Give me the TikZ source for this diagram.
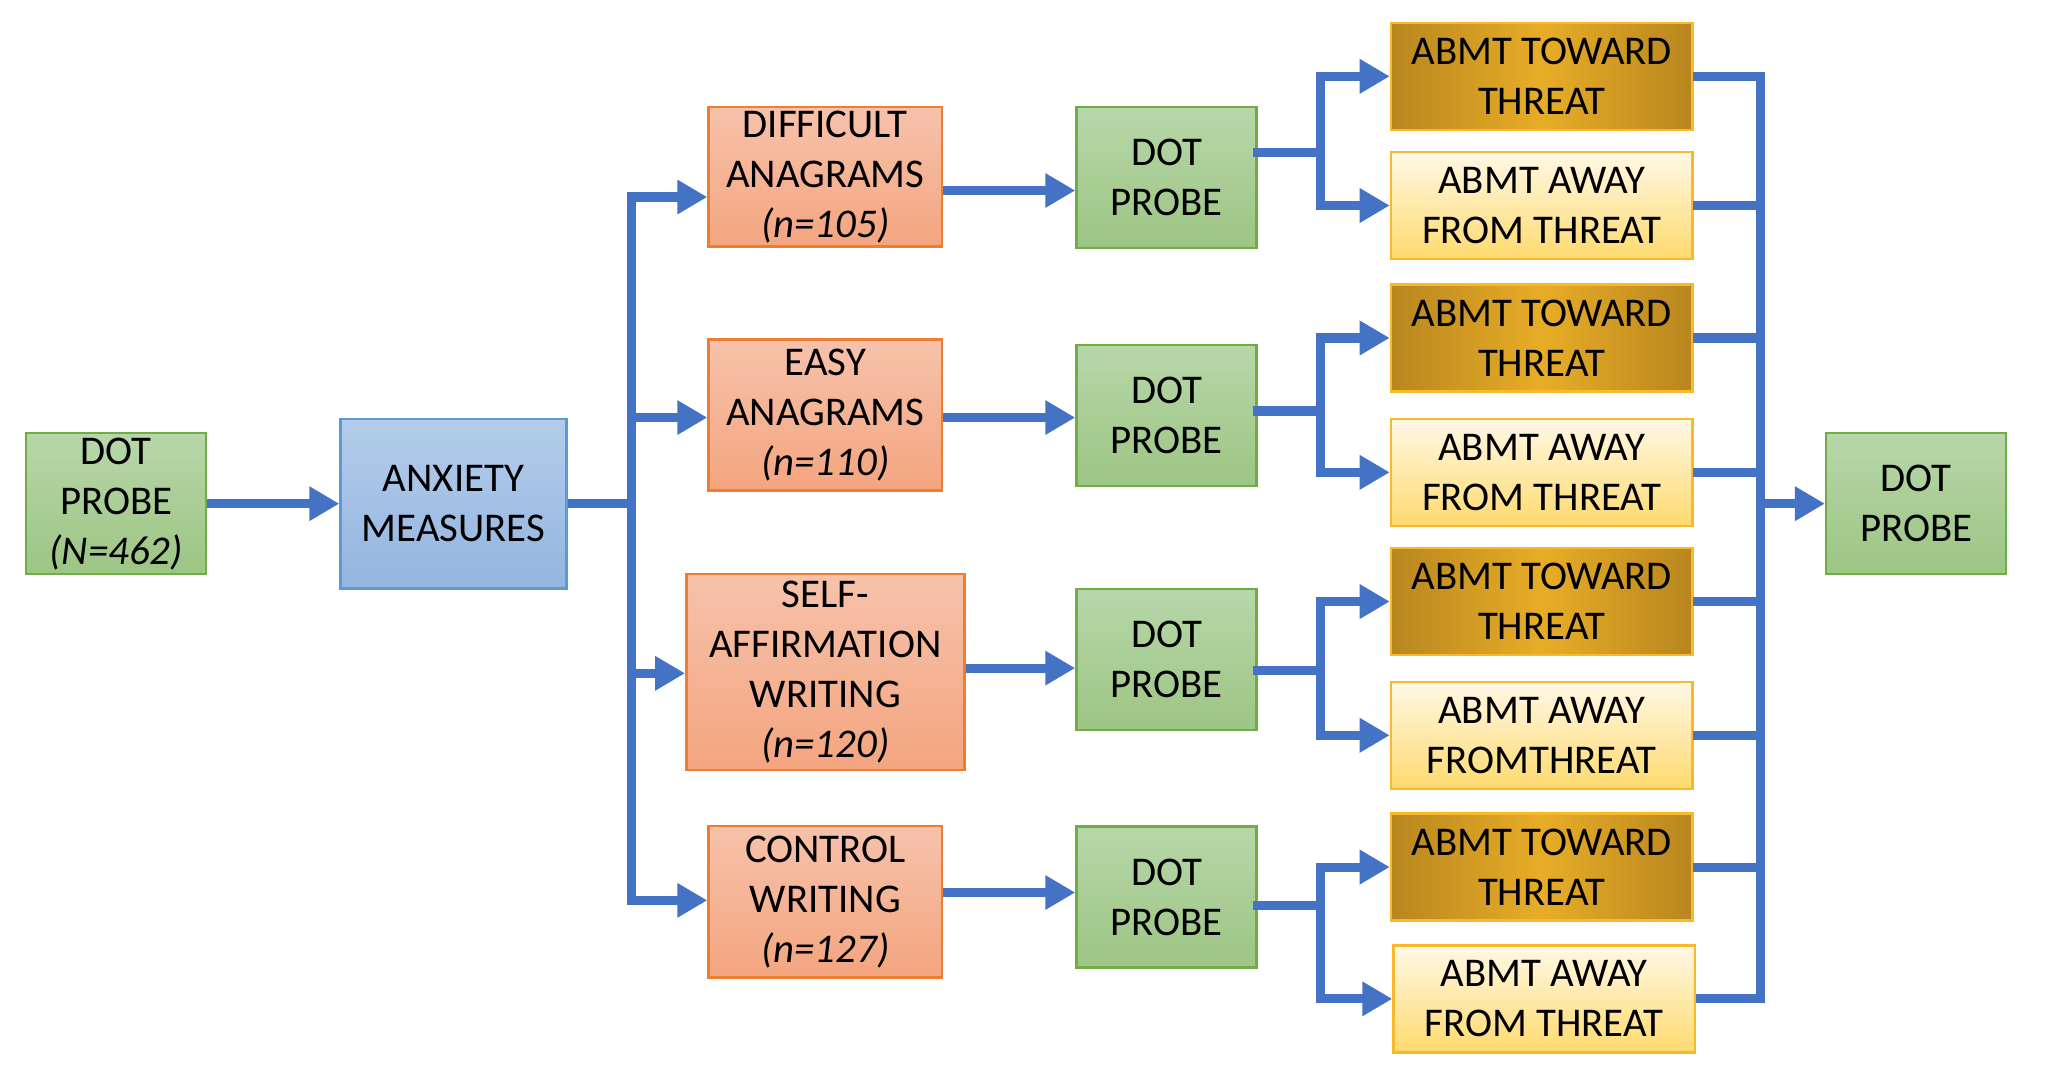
\documentclass[tikz,border=0pt]{standalone}
\usepackage{fontspec}
\setmainfont{Carlito}
\usetikzlibrary{arrows.meta}

\definecolor{lineblue}{HTML}{4472C4}
\definecolor{grnline}{HTML}{70AD47}
\definecolor{grntop}{HTML}{B7D7A9}
\definecolor{grnbot}{HTML}{9DC584}
\definecolor{bluline}{HTML}{5B9BD5}
\definecolor{blutop}{HTML}{B4CCEA}
\definecolor{blubot}{HTML}{93B5E0}
\definecolor{salline}{HTML}{ED7D31}
\definecolor{saltop}{HTML}{F6C2AB}
\definecolor{salbot}{HTML}{F4A57F}
\definecolor{goldline}{HTML}{F8BA2C}
\definecolor{golddark}{HTML}{B8861E}
\definecolor{goldmid}{HTML}{E8AD27}
\definecolor{awaytop}{HTML}{FFF8E6}
\definecolor{awaybot}{HTML}{FEDA6E}

\begin{document}
\begin{tikzpicture}[x=0.02cm,y=-0.02cm,
    every node/.style={font=\fontsize{17.8}{21.8}\selectfont, align=center, inner sep=0pt, line width=1.1pt},
    greenbox/.style={draw=grnline, top color=grntop, bottom color=grnbot, minimum width=2.76cm, minimum height=2.16cm},
    bluebox/.style={draw=bluline, top color=blutop, bottom color=blubot, minimum width=3.46cm, minimum height=2.6cm},
    condbox/.style={draw=salline, top color=saltop, bottom color=salbot, minimum width=3.58cm, minimum height=2.32cm},
    towardbox/.style={draw=goldline, left color=golddark, right color=golddark, middle color=goldmid, minimum width=4.62cm, minimum height=1.64cm},
    awaybox/.style={draw=goldline, top color=awaytop, bottom color=awaybot, minimum width=4.62cm, minimum height=1.64cm},
    bus/.style={draw=lineblue, line width=4pt, line cap=rect},
    arr/.style={draw=lineblue, line width=4pt, -{Triangle[length=0.46cm,width=0.5cm]}}]
  \useasboundingbox (0,0) rectangle (1568,832);

  \node[greenbox] (dp0) at (89,386) {DOT\\PROBE\\\textit{(N=462)}};
  \node[bluebox] (anx) at (347.5,386) {ANXIETY\\MEASURES};

  \node[condbox, minimum height=2.14cm] (diff) at (632.5,135.5) {DIFFICULT\\ANAGRAMS\\\textit{(n=105)}};
  \node[condbox] (easy) at (632.5,318) {EASY\\ANAGRAMS\\\textit{(n=110)}};
  \node[condbox, minimum width=4.26cm, minimum height=3cm] (self) at (632.5,515) {SELF-\\AFFIRMATION\\WRITING\\\textit{(n=120)}};
  \node[condbox] (ctrl) at (632.5,691) {CONTROL\\WRITING\\\textit{(n=127)}};

  \node[greenbox] (dp1) at (894,136) {DOT\\PROBE};
  \node[greenbox] (dp2) at (894,318.5) {DOT\\PROBE};
  \node[greenbox] (dp3) at (894,505.5) {DOT\\PROBE};
  \node[greenbox] (dp4) at (894,687.5) {DOT\\PROBE};

  \node[towardbox] (tw1) at (1181.5,58.5) {ABMT TOWARD\\THREAT};
  \node[awaybox] (aw1) at (1181.5,157.5) {ABMT AWAY\\FROM THREAT};
  \node[towardbox] (tw2) at (1181.5,259) {ABMT TOWARD\\THREAT};
  \node[awaybox] (aw2) at (1181.5,362) {ABMT AWAY\\FROM THREAT};
  \node[towardbox] (tw3) at (1181.5,461) {ABMT TOWARD\\THREAT};
  \node[awaybox] (aw3) at (1181.5,563.5) {ABMT AWAY\\FROMTHREAT};
  \node[towardbox] (tw4) at (1181.5,664.5) {ABMT TOWARD\\THREAT};
  \node[awaybox] (aw4) at (1183.5,765.5) {ABMT AWAY\\FROM THREAT};

  \node[greenbox] (dpF) at (1468.5,386) {DOT\\PROBE};

  % first probe to anxiety measures, then split
  \draw[arr] (dp0) -- (anx);
  \coordinate (fa1) at (484,151);
  \coordinate (fa2) at (484,320);
  \coordinate (fa3) at (484,516);
  \coordinate (fa4) at (484,690);
  \draw[arr] (anx.east) -| (fa1) -- (fa1 -| diff.west);
  \draw[arr] (anx.east) -| (fa4) -- (fa4 -| ctrl.west);
  \draw[arr] (fa2) -- (fa2 -| easy.west);
  \draw[arr] (fa3) -- (fa3 -| self.west);

  % conditions to dot probe
  \coordinate (r1) at (0,146);
  \coordinate (r2) at (0,320);
  \coordinate (r3) at (0,512);
  \coordinate (r4) at (0,684);
  \draw[arr] (diff.east |- r1) -- (dp1.west |- r1);
  \draw[arr] (easy.east |- r2) -- (dp2.west |- r2);
  \draw[arr] (self.east |- r3) -- (dp3.west |- r3);
  \draw[arr] (ctrl.east |- r4) -- (dp4.west |- r4);

  % dot probe to ABMT
  \coordinate (fb1) at (1012,117);
  \coordinate (fb2) at (1012,315);
  \coordinate (fb3) at (1012,514);
  \coordinate (fb4) at (1012,694);
  \draw[bus] (dp1.east |- fb1) -- (fb1);
  \draw[bus] (dp2.east |- fb2) -- (fb2);
  \draw[bus] (dp3.east |- fb3) -- (fb3);
  \draw[bus] (dp4.east |- fb4) -- (fb4);
  \draw[arr] (fb1) |- (tw1.west);
  \draw[arr] (fb1) |- (aw1.west);
  \draw[arr] (fb2) |- (tw2.west);
  \draw[arr] (fb2) |- (aw2.west);
  \draw[arr] (fb3) |- (tw3.west);
  \draw[arr] (fb3) |- (aw3.west);
  \draw[arr] (fb4) |- (tw4.west);
  \draw[arr] (fb4) |- (aw4.west);

  % back together to the last probe
  \coordinate (rb) at (1349,386);
  \draw[bus] (rb |- tw1.east) -- (rb |- aw4.east);
  \foreach \b in {tw1,aw1,tw2,aw2,tw3,aw3,tw4,aw4}
    \draw[bus] ([xshift=0.06cm]\b.east) -- (rb |- \b.east);
  \draw[arr] (rb) -- (dpF.west);
\end{tikzpicture}
\end{document}
